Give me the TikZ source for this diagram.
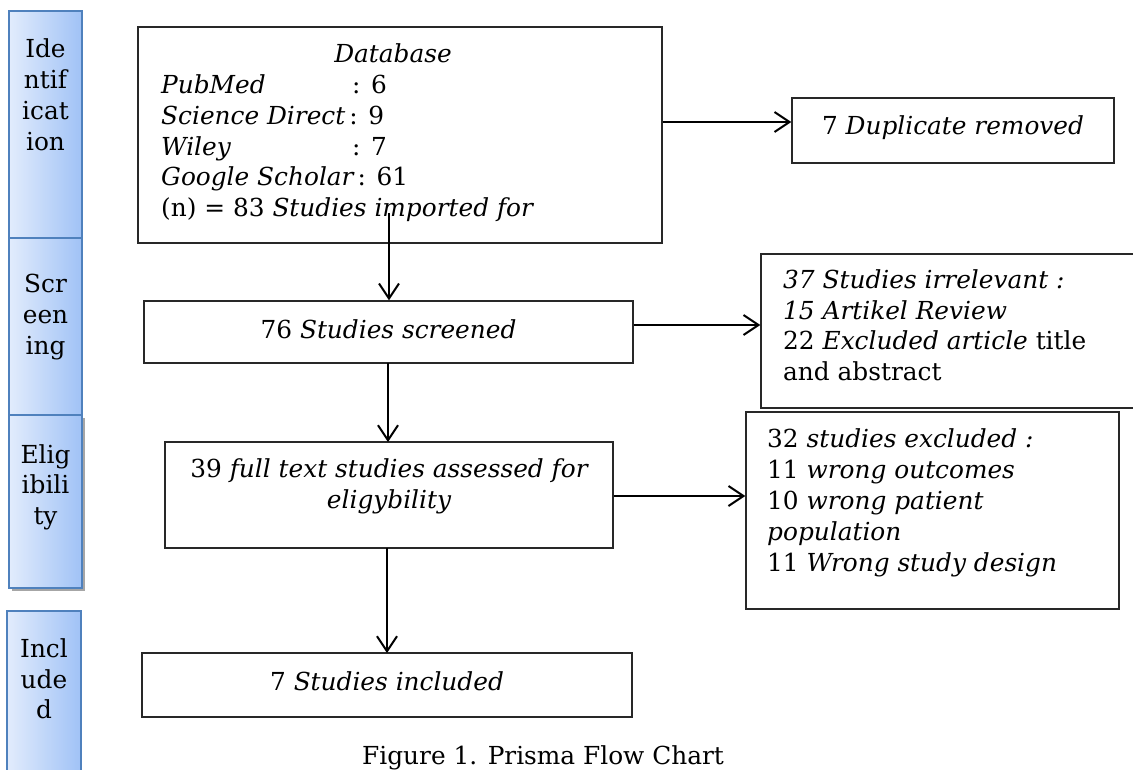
\documentclass[tikz,border=0pt]{standalone}
\usepackage{fontspec}
\setmainfont{DejaVu Serif}
\usetikzlibrary{arrows.meta}
\definecolor{barL}{RGB}{226,236,252}
\definecolor{barR}{RGB}{160,194,246}
\definecolor{barE}{RGB}{79,129,189}
\definecolor{boxE}{RGB}{40,40,40}
\begin{document}
\begin{tikzpicture}[x=1pt,y=-1pt,
  box/.style={draw=boxE, line width=1.4pt, rectangle, inner sep=0pt},
  bar/.style={draw=barE, line width=1.6pt, left color=barL, right color=barR, rectangle, inner sep=0pt},
  arr/.style={line width=2pt, -{Straight Barb[length=15pt,width=20pt,line width=2pt]}},
  tl/.style={inner sep=0pt, anchor=base west, font=\fontsize{24.8}{31}\selectfont},
  tc/.style={inner sep=0pt, anchor=base, font=\fontsize{24.8}{31}\selectfont}
]
\clip (0,0) rectangle (1133,769);
\fill[white] (0,0) rectangle (1133,769);

% left stage bars
\fill[gray!70] (12,418) rectangle (85,591);
\node[bar, minimum width=73pt, minimum height=227pt] (b1) at (45.5,124.5) {};
\node[bar, minimum width=73pt, minimum height=177pt] (b2) at (45.5,326.5) {};
\node[bar, minimum width=73pt, minimum height=173pt] (b3) at (45.5,501.5) {};
\node[bar, minimum width=74pt, minimum height=170pt] (b4) at (44,696) {};

\node[tc] (b1a) at (45.5,57) {Ide};
\node[tc] (b1b) at (45.5,88) {ntif};
\node[tc] (b1c) at (45.5,119) {icat};
\node[tc] (b1d) at (45.5,150) {ion};
\node[tc] (b2a) at (45.5,292) {Scr};
\node[tc] (b2b) at (45.5,323) {een};
\node[tc] (b2c) at (45.5,354) {ing};
\node[tc] (b3a) at (45.5,463) {Elig};
\node[tc] (b3b) at (45.5,493) {ibili};
\node[tc] (b3c) at (45.5,524) {ty};
\node[tc] (b4a) at (44,657) {Incl};
\node[tc] (b4b) at (44,688) {ude};
\node[tc] (b4c) at (44,718) {d};

% boxes
\node[box, minimum width=524pt, minimum height=216pt] (db) at (400,135) {};
\node[box, minimum width=322pt, minimum height=65pt] (dup) at (953,130.5) {};
\node[box, minimum width=489pt, minimum height=62pt] (scr) at (388.5,332) {};
\node[box, minimum width=379pt, minimum height=154pt] (irr) at (950.5,331) {};
\node[box, minimum width=448pt, minimum height=106pt] (elig) at (389,495) {};
\node[box, minimum width=373pt, minimum height=197pt] (exc) at (932.5,510.5) {};
\node[box, minimum width=490pt, minimum height=64pt] (inc) at (387,685) {};

% database text
\node[tc] (dbt) at (393,62) {\itshape Database};
\node[tl] (db1) at (161,93) {\itshape PubMed};
\node[tl] (db1n) at (352,93) {: 6};
\node[tl] (db2) at (161,124) {\itshape Science Direct\upshape\,: 9};
\node[tl] (db3) at (161,155) {\itshape Wiley};
\node[tl] (db3n) at (352,155) {: 7};
\node[tl] (db4) at (161,185) {\itshape Google Scholar\upshape\,: 61};
\node[tl] (db5) at (161,216) {(n) = 83 \itshape Studies imported for};

\node[tc] (dupt) at (953,134) {7 \itshape Duplicate removed};
\node[tc] (scrt) at (388.5,338) {76 \itshape Studies screened};
\node[tc] (elig1) at (389,477) {39 \itshape full text studies assessed for};
\node[tc] (elig2) at (389,508) {\itshape eligybility};
\node[tc] (inct) at (387,690) {7 \itshape Studies included};

\node[tl] (irr1) at (783,288) {\itshape 37 Studies irrelevant :};
\node[tl] (irr2) at (783,319) {\itshape 15 Artikel Review};
\node[tl] (irr3) at (783,349) {22 \itshape Excluded article\upshape\ title};
\node[tl] (irr4) at (783,380) {and abstract};

\node[tl] (exc1) at (767,447) {32 \itshape studies excluded :};
\node[tl] (exc2) at (767,478) {11 \itshape wrong outcomes};
\node[tl] (exc3) at (767,509) {10 \itshape wrong patient};
\node[tl] (exc4) at (767,540) {\itshape population};
\node[tl] (exc5) at (767,571) {11 \itshape Wrong study design};

\node[tl] (cap) at (362,764) {Figure 1. Prisma Flow Chart};

% connectors
\coordinate (dbs) at (389,213);
\draw[arr] (dbs) -- (dbs |- scr.north);
\draw[arr] (db.east |- 0,122) -- (dup.west |- 0,122);
\draw[arr] (scr.east |- 0,325) -- (irr.west |- 0,325);
\draw[arr] (388,363) -- (388,442);
\draw[arr] (elig.east |- 0,496) -- (exc.west |- 0,496);
\draw[arr] (387,548) -- (387,653);
\end{tikzpicture}
\end{document}
